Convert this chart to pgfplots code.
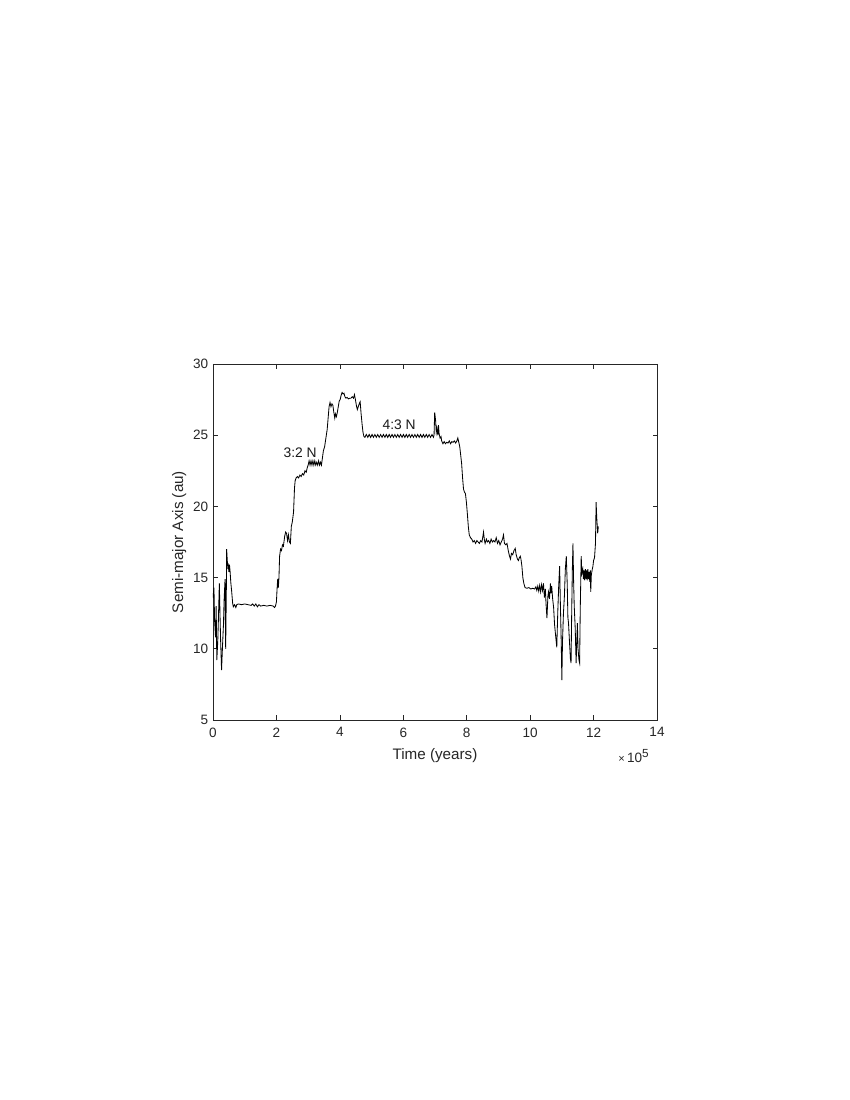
\documentclass[border=0pt]{standalone}
\usepackage{fontspec}
\setmainfont{Liberation Sans}
\usepackage{pgfplots}
\pgfplotsset{compat=1.18}

\begin{document}
\begin{tikzpicture}
\begin{axis}[
  name=ax,
  scale only axis,
  width=4.44in,
  height=3.56in,
  xmin=0, xmax=14,
  ymin=5, ymax=30,
  xtick={0,2,...,14},
  ytick={5,10,...,30},
  tick align=inside,
  major tick length=0.045in,
  axis line style={draw=black!85, line width=0.5pt},
  every tick/.style={draw=black!85, line width=0.5pt},
  /pgf/number format/assume math mode=true,
  tick label style={font=\fontsize{9.8}{11}\selectfont, text=black!85},
  xticklabel style={yshift=-2pt},
  label style={font=\fontsize{11}{13}\selectfont, text=black!85},
  xlabel={Time (years)},
  ylabel={Semi-major Axis (au)},
  xlabel style={yshift=-1pt},
  ylabel style={yshift=-2pt},
]
\addplot[black, line width=0.6pt] coordinates {
  (0.00,13.6)(0.03,14.3)(0.05,12.0)(0.08,10.8)(0.10,13.0)(0.12,9.2)(0.15,10.5)
  (0.17,12.0)(0.20,14.6)(0.22,12.5)(0.24,10.6)(0.27,8.5)(0.30,10.2)(0.33,11.7)
  (0.35,13.4)(0.38,14.9)(0.39,12.0)(0.40,10.0)(0.42,14.0)(0.43,17.0)(0.45,16.2)
  (0.47,15.6)(0.48,16.0)(0.50,15.4)(0.52,15.9)(0.54,15.4)(0.56,14.7)(0.59,14.0)
  (0.62,13.2)(0.64,12.95)(0.68,13.1)(0.72,12.9)(0.75,13.1)
  (0.80,13.15)(0.90,13.1)(1.00,13.15)(1.10,13.1)(1.20,13.05)(1.25,13.15)(1.30,13.0)
  (1.35,13.15)(1.40,12.95)(1.45,13.1)(1.50,13.0)(1.60,13.05)(1.70,13.0)(1.80,13.05)
  (1.90,13.0)(1.94,12.9)(1.97,13.0)
  (2.00,13.3)(2.02,14.2)(2.04,14.9)(2.06,14.3)(2.08,15.0)(2.10,16.5)(2.13,17.0)
  (2.16,16.9)(2.19,17.3)(2.22,17.2)(2.26,17.9)(2.29,18.2)(2.32,18.1)(2.35,17.6)
  (2.38,18.0)(2.41,17.5)(2.44,17.4)(2.47,18.6)(2.50,18.9)(2.54,19.6)(2.57,21.3)
  (2.59,21.8)(2.62,22.0)(2.66,22.1)(2.70,22.0)(2.74,22.2)(2.78,22.1)(2.82,22.3)
  (2.86,22.2)(2.90,22.5)(2.94,22.4)(2.97,22.7)(3.00,22.9)
  (3.03,23.2)(3.06,22.9)(3.09,23.2)(3.12,22.9)(3.15,23.2)(3.18,22.9)(3.21,23.2)
  (3.24,22.9)(3.27,23.1)(3.30,22.9)(3.33,23.2)(3.36,22.9)(3.39,23.1)(3.42,22.9)
  (3.45,23.4)
  (3.48,23.9)(3.52,24.2)(3.56,24.8)(3.60,25.4)(3.63,26.2)(3.66,27.0)(3.69,27.3)
  (3.72,27.0)(3.75,27.2)(3.78,27.1)(3.81,26.6)(3.84,26.2)(3.86,26.5)(3.89,26.3)
  (3.92,26.6)(3.95,27.0)(3.98,27.4)(4.01,27.5)(4.04,27.8)(4.07,28.0)(4.10,27.9)
  (4.13,27.95)(4.16,27.7)(4.19,27.6)(4.23,27.65)(4.27,27.55)(4.31,27.6)(4.35,27.6)
  (4.39,27.7)(4.43,27.6)(4.46,27.85)(4.49,27.5)(4.52,27.1)(4.55,26.8)(4.58,27.0)
  (4.61,27.2)(4.64,27.35)(4.67,26.5)(4.70,25.8)(4.73,25.2)(4.76,24.9)
  (4.790,24.85)(4.835,25.05)(4.880,24.85)(4.925,25.05)(4.970,24.85)(5.015,25.05)
  (5.060,24.85)(5.105,25.05)(5.150,24.85)(5.195,25.05)(5.240,24.85)(5.285,25.05)
  (5.330,24.85)(5.375,25.05)(5.420,24.85)(5.465,25.05)(5.510,24.85)(5.555,25.05)
  (5.600,24.85)(5.645,25.05)(5.690,24.85)(5.735,25.05)(5.780,24.85)(5.825,25.05)
  (5.870,24.85)(5.915,25.05)(5.960,24.85)(6.005,25.05)(6.050,24.85)(6.095,25.05)
  (6.140,24.85)(6.185,25.05)(6.230,24.85)(6.275,25.05)(6.320,24.85)(6.365,25.05)
  (6.410,24.85)(6.455,25.05)(6.500,24.85)(6.545,25.05)(6.590,24.85)(6.635,25.05)
  (6.680,24.85)(6.725,25.05)(6.770,24.85)(6.815,25.05)(6.860,24.85)(6.905,25.05)
  (6.950,24.85)
  (6.97,25.0)(6.99,26.6)(7.02,26.0)(7.04,25.2)(7.06,25.5)(7.09,25.0)(7.11,25.7)
  (7.13,25.1)(7.16,24.8)(7.19,24.9)(7.21,24.6)(7.25,24.4)(7.29,24.55)(7.33,24.4)
  (7.37,24.5)(7.41,24.45)(7.45,24.6)(7.49,24.4)(7.53,24.55)(7.57,24.5)(7.61,24.6)
  (7.65,24.45)(7.69,24.6)(7.72,24.8)(7.75,24.5)(7.78,24.2)(7.81,23.6)(7.84,23.0)
  (7.87,22.0)(7.90,21.2)(7.93,21.0)(7.96,20.9)(7.99,20.3)(8.02,19.5)(8.05,18.6)
  (8.08,18.0)(8.12,17.8)(8.16,17.7)(8.20,17.5)(8.24,17.6)(8.28,17.4)(8.32,17.6)
  (8.36,17.5)(8.40,17.4)(8.44,17.6)(8.48,17.5)(8.51,17.9)(8.53,18.2)(8.56,17.6)
  (8.58,17.4)(8.62,17.7)(8.65,17.5)(8.69,17.6)(8.73,17.4)(8.77,17.7)(8.81,17.5)
  (8.85,17.6)(8.89,17.5)(8.93,17.8)(8.97,17.4)(9.01,17.6)(9.05,17.3)(9.09,17.5)
  (9.13,17.7)(9.16,18.0)(9.19,17.4)(9.23,17.3)(9.27,17.4)(9.31,16.9)(9.35,16.5)
  (9.38,16.3)(9.41,16.7)(9.45,16.6)(9.49,16.9)(9.53,17.05)(9.56,16.6)(9.60,16.3)
  (9.63,16.2)(9.66,16.4)(9.69,16.5)(9.71,16.3)(9.74,15.8)(9.77,15.0)(9.80,14.6)
  (9.84,14.3)(9.90,14.25)(9.96,14.3)(10.02,14.2)(10.08,14.25)(10.14,14.2)
  (10.18,14.35)(10.21,14.1)(10.24,14.4)(10.27,14.05)(10.30,14.45)(10.33,14.0)
  (10.36,14.5)(10.39,14.1)(10.42,14.6)(10.45,13.6)(10.48,14.2)(10.50,13.2)
  (10.53,12.15)(10.56,13.7)(10.58,14.0)(10.61,13.5)(10.64,14.6)(10.66,13.9)
  (10.68,14.4)(10.71,13.5)(10.74,12.9)(10.77,11.7)(10.80,11.0)(10.84,10.1)
  (10.87,12.5)(10.90,14.4)(10.93,15.8)(10.95,13.5)(10.98,10.5)(11.00,7.8)
  (11.02,10.5)(11.05,12.5)(11.08,13.7)(11.11,15.6)(11.14,16.5)(11.17,14.5)
  (11.19,12.2)(11.21,11.8)(11.24,10.5)(11.27,9.3)(11.29,9.0)(11.31,12.5)
  (11.33,15.5)(11.35,17.4)(11.37,14.8)(11.39,13.0)(11.42,11.5)(11.45,9.0)
  (11.47,10.5)(11.49,11.8)(11.51,10.0)(11.54,9.2)(11.56,9.0)(11.58,12.8)
  (11.61,16.5)(11.63,15.3)(11.66,15.6)(11.68,14.9)(11.70,15.5)(11.72,14.8)
  (11.74,15.6)(11.76,14.9)(11.78,15.5)(11.80,14.8)(11.82,15.6)(11.84,14.9)
  (11.86,15.4)(11.88,14.7)(11.90,15.5)(11.91,14.0)(11.93,15.2)(11.96,15.6)
  (11.98,15.8)(12.00,16.2)(12.03,16.4)(12.06,17.4)(12.08,20.3)(12.10,19.2)
  (12.13,18.1)(12.15,18.6)
};
\node[font=\fontsize{10}{12}\selectfont, text=black!90] at (axis cs:2.75,23.75) {3:2 N};
\node[font=\fontsize{10}{12}\selectfont, text=black!90] at (axis cs:5.87,25.72) {4:3 N};
\end{axis}
\node[anchor=base east, font=\fontsize{9.8}{11}\selectfont, text=black!85, inner sep=0pt]
  at ([xshift=-0.08in, yshift=-0.42in]ax.south east)
  {{\fontsize{8}{9}\selectfont ×}\,10\raisebox{0.6ex}{\fontsize{8.5}{9}\selectfont 5}};
\path (-2.13in,-3.80in) rectangle (6.37in,7.20in);
\end{tikzpicture}
\end{document}
